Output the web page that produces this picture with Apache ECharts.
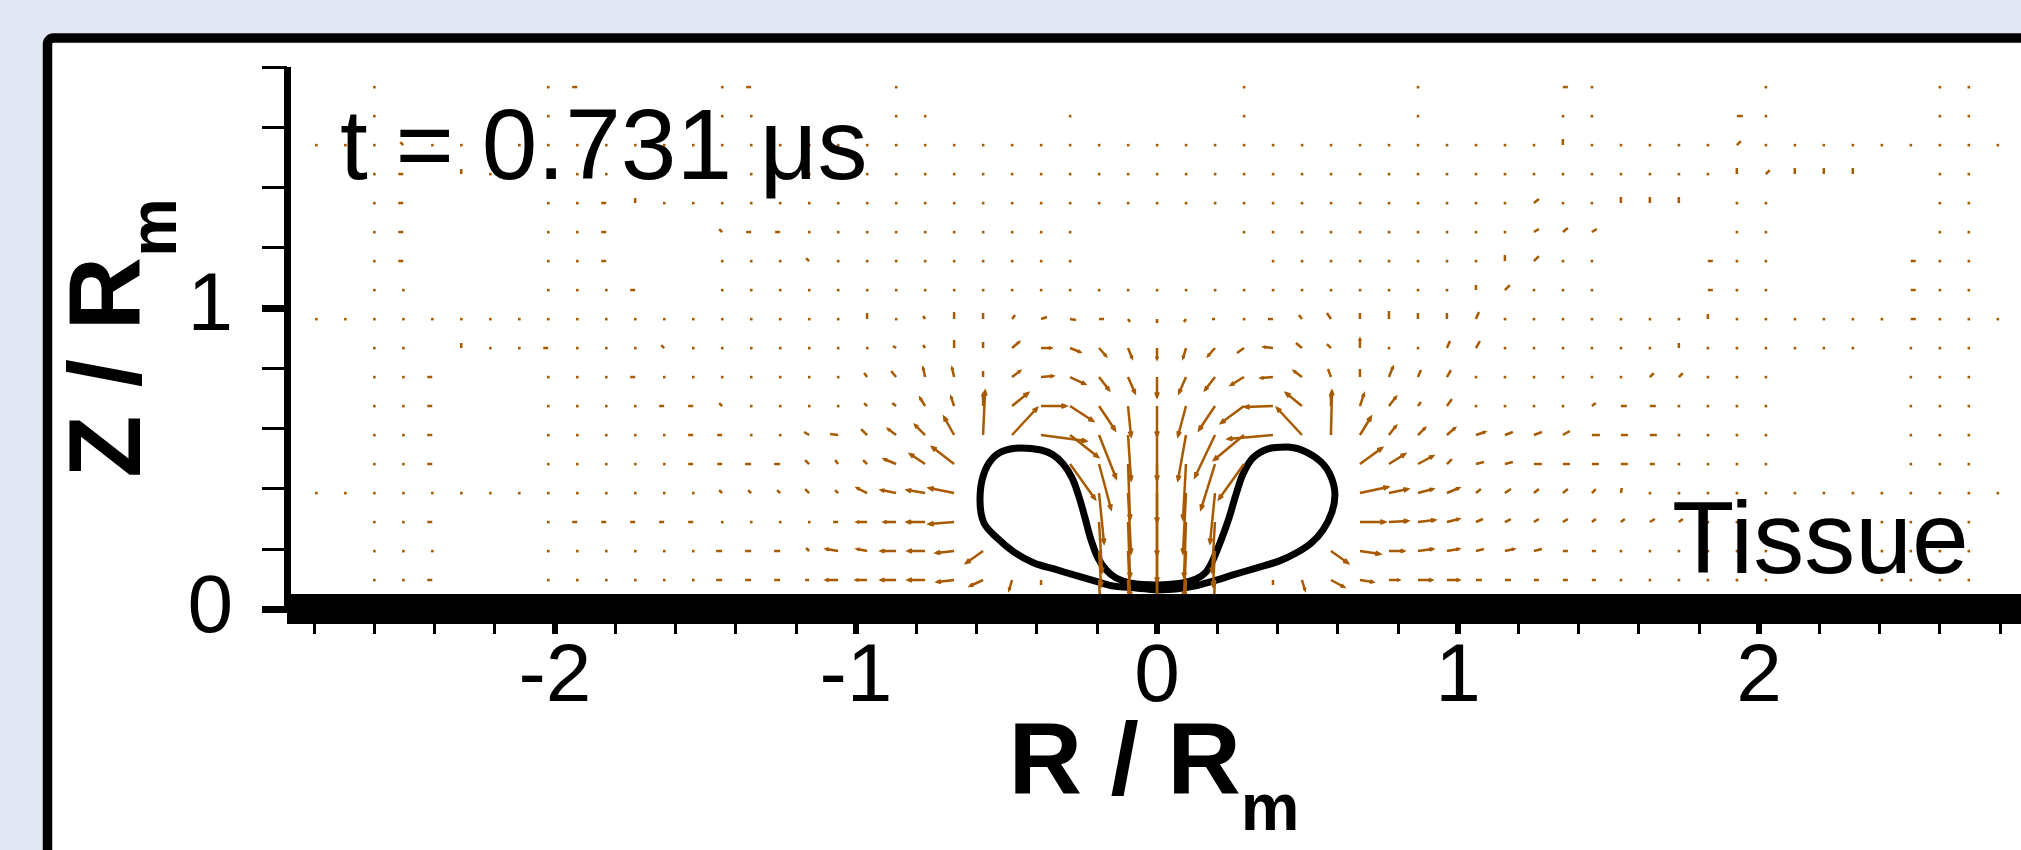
<!DOCTYPE html>
<html>
<head>
<meta charset="utf-8">
<script src="https://cdn.jsdelivr.net/npm/echarts@6.0.0/dist/echarts.min.js"></script>
<style>
html,body{margin:0;padding:0;background:#e3e7f3;}
#chart{width:2021px;height:850px;}
</style>
</head>
<body>
<div id="chart"></div>
<script>
// ---------------- DATA ----------------
// Axis extents and tick labels
const xRange = [-2.89, 2.87];
const yRange = [0, 1.8];
const xMajorTicks = [-2, -1, 0, 1, 2];
const xMinorTicks = [-2.8,-2.6,-2.4,-2.2,-1.8,-1.6,-1.4,-1.2,-0.8,-0.6,-0.4,-0.2,0.2,0.4,0.6,0.8,1.2,1.4,1.6,1.8,2.2,2.4,2.6,2.8];
const yMajorTicks = [0, 1];
const yMinorTicks = [0.2,0.4,0.6,0.8,1.2,1.4,1.6,1.8];

// Bubble contour (left and right lobes), R/Rm and Z/Rm
const lobeLeftR = [0.000,-0.070,-0.143,-0.196,-0.276,-0.342,-0.409,-0.475,-0.528,-0.575,-0.588,-0.581,-0.558,-0.518,-0.452,-0.385,-0.346,-0.312,-0.282,-0.259,-0.239,-0.219,-0.196,-0.169,-0.136,-0.086,0.000];
const lobeLeftZ = [0.063,0.070,0.076,0.090,0.113,0.133,0.153,0.189,0.233,0.286,0.362,0.429,0.485,0.522,0.535,0.528,0.512,0.482,0.435,0.372,0.302,0.229,0.169,0.130,0.103,0.086,0.080];
const lobeRightR = [0.000,0.080,0.130,0.163,0.186,0.213,0.239,0.262,0.286,0.319,0.369,0.429,0.488,0.545,0.578,0.591,0.581,0.551,0.512,0.462,0.405,0.329,0.252,0.186,0.123,0.063,0.000];
const lobeRightZ = [0.080,0.086,0.100,0.123,0.163,0.229,0.302,0.379,0.449,0.502,0.532,0.538,0.525,0.488,0.439,0.379,0.322,0.262,0.219,0.186,0.159,0.136,0.113,0.093,0.076,0.066,0.063];

// Velocity mesh: node spacing (R/Rm) and which nodes carry a vector.
// Each mask row lists columns k = -29 ... 29 (groups of 10, last group 9); row index = j (1..18)
const meshStep = 0.0963;
const rowMasks = [
  "0011100011 1111111111 1111110111 1101111111 1111111111 100011110", // j=1
  "0011100011 1111111111 1111000111 1100011111 1111111111 100011110", // j=2
  "0011100011 1111111111 1110000111 1100001111 1111111111 100011110", // j=3
  "1111111111 1111111111 1110000111 1100001111 1111111111 111111111", // j=4
  "0011100011 1111111111 1110001111 1110001111 1111111111 100001110", // j=5
  "0011100011 1111111111 1111111111 1111111111 1111111111 100001110", // j=6
  "0011100011 1111111111 1111111111 1111111111 1111111111 100001110", // j=7
  "0011100011 1111111111 1111111111 1111111111 1111111111 100001110", // j=8
  "0011011111 1111111111 1111111111 1111111111 1111111111 111101110", // j=9
  "1111111111 1111111111 1111111111 1111111111 1111111111 111111111", // j=10
  "0011000011 1100111111 1111111111 1111111111 1111100011 100001110", // j=11
  "0011000011 1000111111 1111111000 0001111111 1111100011 100001110", // j=12
  "0011000011 1000111111 1111111000 0011111111 1111100001 100000110", // j=13
  "0011000011 1111111111 1111111111 1111111111 1111111101 100000110", // j=14
  "0011011111 1111111111 1111111111 1111111111 1111111111 111100110", // j=15
  "1111111111 1111111111 1111111111 1111111111 1111111111 111111111", // j=16
  "0010000010 0000110000 1100001000 0010000010 0001100001 100000110", // j=17
  "0010000011 0000110000 1000000000 0010000010 0001100000 100000110"  // j=18
];

// Velocity vectors [k, j, u, w] (relative speed units); nodes not listed are ~0
const jetVectors = [
  [0,1,0,-30],[0,2,0,-50],[0,3,0,-60],[0,4,0,-62],[0,5,0,-58],[0,6,0,-45],[0,7,0,-30],[0,8,0,-20],[0,9,0,-11],[0,10,0,-4],
  [-1,1,1,-25],[-1,2,2,-45],[-1,3,2,-55],[-1,4,3,-60],[-1,5,2,-55],[-1,6,3,-45],[-1,7,3,-30],[-1,8,7,-16],[-1,9,4,-10],[-1,10,2,-3],
  [1,1,-1,-25],[1,2,-2,-45],[1,3,-2,-55],[1,4,-3,-60],[1,5,-3,-55],[1,6,-8,-45],[1,7,-8,-30],[1,8,-7,-16],[1,9,-3,-10],[1,10,-2,-3],
  [-2,1,1,-20],[-2,2,2,-35],[-2,3,3,-50],[-2,4,5,-50],[-2,5,12,-45],[-2,6,17,-43],[-2,7,16,-24],[-2,8,10,-13],[-2,9,7,-8],[-2,10,5,0],
  [2,1,-1,-20],[2,2,-2,-35],[2,3,-3,-50],[2,4,-5,-50],[2,5,-14,-45],[2,6,-20,-42],[2,7,-16,-24],[2,8,-10,-13],[2,9,-7,-8],[2,10,-3,0]
];
const ringVectors = [
  [-3,5,25,-35],[-3,6,28,-22],[-3,7,23,-15],[-3,8,15,-7],[-3,9,10,-4],[-3,10,6,-1],
  [3,5,-25,-35],[3,6,-30,-25],[3,7,-23,-17],[3,8,-13,-8],[3,9,-7,-5],[3,10,-2,0],
  [-4,1,0,-5],[-4,6,45,-6],[-4,7,25,0],[-4,8,12,1],[-4,9,10,0],[-4,10,6,2],
  [4,1,0,-5],[4,6,-45,-4],[4,7,-28,-1],[4,8,-12,-1],[4,9,-9,1],[4,10,-5,0],
  [-5,1,-3,-10],[-5,6,25,27],[-5,7,16,13],[-5,8,8,6],[-5,9,7,6],[-5,10,3,4],
  [5,1,3,-10],[5,6,-25,27],[5,7,-16,13],[5,8,-8,6],[5,9,-6,5],[5,10,-3,4],
  [-6,1,-13,-6],[-6,2,-17,-12],[-6,6,2,44],[-6,7,0,12],[-6,8,0,6],[-6,9,0,6],[-6,10,0,6],
  [6,1,13,-7],[6,2,17,-12],[6,6,1,44],[6,7,0,12],[6,8,-3,8],[6,9,-4,4],[6,10,-4,6]
];
const wallVectorsLeft = [
  [-7,1,-17,-2],[-7,2,-18,-2],[-7,3,-25,-2],[-7,4,-25,5],[-7,5,-22,17],[-7,6,-10,18],[-7,7,-3,9],[-7,8,-2,9],[-7,9,0,8],[-7,10,0,7],
  [-8,1,-17,0],[-8,2,-17,0],[-8,3,-18,0],[-8,4,-18,3],[-8,5,-15,10],[-8,6,-10,10],[-8,7,-5,8],[-8,8,-2,9],[-8,9,-2,3],[-8,10,-2,3],
  [-9,1,-15,0],[-9,2,-15,0],[-9,3,-12,0],[-9,4,-15,3],[-9,5,-12,5],[-9,6,-8,6],[-9,7,-4,3],[-9,8,-5,6],[-9,9,-3,2],
  [-10,1,-11,0],[-10,2,-10,2],[-10,3,-10,0],[-10,4,-10,5],[-10,5,-4,4],[-10,6,-6,6],[-10,7,-3,3],[-10,8,-3,4],[-10,10,0,6],
  [-11,1,-12,0],[-11,2,-12,2],[-11,3,-5,0],[-11,4,-3,3],[-11,5,-3,4],[-11,6,-8,1],[-11,9,2,-2],
  [-12,1,-4,0],[-12,2,-3,3],[-12,4,-4,4],[-12,5,-4,4],[-12,6,-5,3],[-12,12,-3,3]
];
const wallVectorsRight = [
  [7,1,13,-2],[7,2,20,-3],[7,3,25,0],[7,4,28,6],[7,5,22,16],[7,6,11,18],[7,7,4,12],[7,8,0,8],[7,9,0,9],[7,10,0,6],
  [8,1,10,0],[8,2,15,0],[8,3,19,1],[8,4,19,4],[8,5,16,10],[8,6,7,9],[8,7,7,9],[8,8,4,10],[8,10,0,8],
  [9,1,14,0],[9,2,15,2],[9,3,17,2],[9,4,15,4],[9,5,15,8],[9,6,7,7],[9,7,3,4],[9,8,3,7],[9,10,0,6],
  [10,1,12,0],[10,2,12,2],[10,3,12,3],[10,4,12,5],[10,5,5,5],[10,6,8,7],[10,7,5,7],[10,8,4,7],[10,9,3,7],[10,10,0,6],
  [11,1,6,0],[11,2,8,2],[11,3,7,3],[11,4,5,4],[11,5,8,2],[11,6,9,3],[11,9,4,7],[11,10,3,7],[11,11,0,5],
  [12,1,6,0],[12,2,9,2],[12,3,6,3],[12,4,6,4],[12,5,8,2],[12,6,8,3],[12,11,5,5],[12,12,0,6]
];
const farVectors = [
  [13,1,5,0],[13,2,8,2],[13,3,5,3],[13,4,5,4],[13,5,8,0],[13,6,8,3],[13,12,5,5],[13,13,5,3],[13,14,5,4],
  [14,1,5,0],[14,2,5,0],[14,3,5,3],[14,4,5,4],[14,5,7,0],[14,6,7,4],[14,13,5,4],[14,16,0,6],[14,18,5,0],
  [15,1,4,0],[15,2,4,0],[15,3,4,3],[15,4,4,4],[15,5,7,0],[15,6,8,0],[15,7,4,3],[15,13,5,3],
  [16,3,4,3],[16,4,1,5],[16,5,7,0],[16,6,7,0],[16,7,6,0],[16,14,0,6],
  [17,3,5,3],[17,5,5,0],[17,6,7,0],[17,7,6,0],[17,8,4,4],[17,14,0,6],
  [18,3,4,3],[18,8,4,4],[18,9,0,5],[18,14,0,6],
  [19,10,0,5],[19,11,5,0],[19,12,5,0],[20,15,0,6],[20,16,4,4],[20,17,6,0],
  [21,15,4,4],[22,15,0,6],[23,15,0,6],[24,15,0,6],[26,10,5,0],[26,11,5,0],[26,12,5,0],
  [-13,1,-6,0],[-13,2,-6,0],[-13,4,-3,3],[-13,5,-6,0],[-13,13,-5,0],
  [-14,1,-6,0],[-14,2,-6,0],[-14,4,-3,3],[-14,5,-6,0],[-14,13,-5,0],[-14,18,-5,0],
  [-15,1,-6,0],[-15,2,-6,0],[-15,4,-3,3],[-15,5,-5,0],[-15,6,-5,0],[-15,7,-3,3],[-15,13,-3,3],
  [-16,3,-5,0],[-16,5,-5,0],[-16,6,-5,0],[-16,7,-5,0],
  [-17,3,-5,0],[-17,7,-5,0],[-17,9,-3,3],
  [-18,3,-5,0],[-18,8,-5,0],[-18,11,-5,0],[-18,14,0,5],
  [-19,3,-5,0],[-19,12,-5,0],[-19,13,-5,0],[-19,14,-5,0],
  [-20,3,-5,0],[-20,18,-5,0],[-21,9,-5,0],[-24,9,0,5],[-24,15,0,5],
  [-25,1,-5,0],[-25,3,-5,0],[-25,5,-5,0],[-25,6,-5,0],[-25,7,-5,0],[-25,8,-5,0],
  [-26,12,-5,0],[-26,13,-5,0],[-26,14,-5,0],[-26,15,-5,0],[-26,16,-3,3]
];
// quiver scale: axis units per speed unit
const vecScale = 1 / 301;

// ---------------- BUILD ----------------
const vecMap = {};
[jetVectors, ringVectors, wallVectorsLeft, wallVectorsRight, farVectors].forEach(function (list) {
  list.forEach(function (v) { vecMap[v[0] + ',' + v[1]] = [v[2], v[3]]; });
});
const nodes = [];
rowMasks.forEach(function (m, idx) {
  const j = idx + 1;
  const s = m.replace(/ /g, '');
  for (let i = 0; i < s.length; i++) {
    if (s[i] === '1') {
      const k = i - 29;
      const v = vecMap[k + ',' + j] || [0, 0];
      nodes.push([k * meshStep, j * meshStep, v[0], v[1]]);
    }
  }
});

const arrowColor = '#a85a00';
const FONT = '"Liberation Sans", Arial, Helvetica, sans-serif';

function renderVec(params, api) {
  const x = api.value(0), z = api.value(1), u = api.value(2), w = api.value(3);
  const p0 = api.coord([x, z]);
  const p1 = api.coord([x + u * vecScale, z + w * vecScale]);
  const dx = p1[0] - p0[0], dy = p1[1] - p0[1];
  const len = Math.sqrt(dx * dx + dy * dy);
  if (len < 3) {
    return { type: 'rect', shape: { x: p0[0] - 1.2, y: p0[1] - 1.2, width: 2.6, height: 2.6 }, style: { fill: arrowColor } };
  }
  const children = [{ type: 'line', shape: { x1: p0[0], y1: p0[1], x2: p1[0], y2: p1[1] }, style: { stroke: arrowColor, lineWidth: 2.5, lineCap: 'butt' } }];
  if (len > 9) {
    const ang = Math.atan2(dy, dx);
    const h = Math.min(5, len * 0.25);
    const a1 = ang + Math.PI - 0.4, a2 = ang + Math.PI + 0.4;
    children.push({ type: 'polyline', shape: { points: [[p1[0] + h * Math.cos(a1), p1[1] + h * Math.sin(a1)], [p1[0], p1[1]], [p1[0] + h * Math.cos(a2), p1[1] + h * Math.sin(a2)]] },
      style: { stroke: arrowColor, lineWidth: 2.2, fill: null } });
  }
  return { type: 'group', children: children };
}

function nameRich() {
  return {
    a: { fontSize: 102, fontWeight: 'bold', fontFamily: FONT, color: '#000', lineHeight: 100, verticalAlign: 'top' },
    b: { fontSize: 66, fontWeight: 'bold', fontFamily: FONT, color: '#000', lineHeight: 100, verticalAlign: 'top', padding: [64, 0, 0, 0] }
  };
}

const chart = echarts.init(document.getElementById('chart'), null, { renderer: 'canvas', width: 2021, height: 850 });
const labelStyle = { fontSize: 82, color: '#000', fontFamily: FONT };

chart.setOption({
  animation: false,
  backgroundColor: '#e3e7f3',
  grid: { left: 287, right: 0, top: 67, bottom: 241, containLabel: false },
  graphic: [
    { type: 'rect', z: -10, silent: true, shape: { x: 47.5, y: 38, width: 2100, height: 900, r: 6 }, style: { fill: '#ffffff', stroke: '#000', lineWidth: 9.5 } },
    { type: 'text', z: 50, left: 340, top: 101, style: { text: 't = 0.731 μs', fontSize: 100, fontFamily: FONT, fill: '#000' } },
    { type: 'text', z: 50, left: 1672, top: 494, style: { text: 'Tissue', fontSize: 102, fontFamily: FONT, fill: '#000' } }
  ],
  xAxis: [
    {
      type: 'value', min: xRange[0], max: xRange[1], position: 'bottom', z: 10,
      axisLine: { show: true, onZero: false, lineStyle: { color: '#000', width: 30, cap: 'butt' } },
      axisTick: { show: true, customValues: xMajorTicks, length: 25, lineStyle: { color: '#000', width: 6 } },
      axisLabel: { show: true, customValues: xMajorTicks, margin: 28, ...labelStyle },
      splitLine: { show: false },
      name: '{a|R / R}{b|m}', nameLocation: 'middle', nameGap: 106, nameMoveOverlap: false,
      nameTextStyle: { rich: nameRich() }
    },
    {
      type: 'value', min: xRange[0], max: xRange[1], position: 'bottom', z: 10,
      axisLine: { show: false, onZero: false },
      axisTick: { show: true, customValues: xMinorTicks, length: 25, lineStyle: { color: '#000', width: 3 } },
      axisLabel: { show: false }, splitLine: { show: false }
    }
  ],
  yAxis: [
    {
      type: 'value', min: yRange[0], max: yRange[1], position: 'left', z: 10,
      axisLine: { show: true, onZero: false, lineStyle: { color: '#000', width: 7, cap: 'butt' } },
      axisTick: { show: true, customValues: yMajorTicks, length: 25, lineStyle: { color: '#000', width: 7 } },
      axisLabel: { show: true, customValues: yMajorTicks, margin: 54, ...labelStyle },
      splitLine: { show: false },
      name: '{a|Z / R}{b|m}', nameLocation: 'middle', nameRotate: 90, nameGap: 126, nameMoveOverlap: false,
      nameTextStyle: { rich: nameRich() }
    },
    {
      type: 'value', min: yRange[0], max: yRange[1], position: 'left', z: 10,
      axisLine: { show: false, onZero: false },
      axisTick: { show: true, customValues: yMinorTicks, length: 25, lineStyle: { color: '#000', width: 3 } },
      axisLabel: { show: false }, splitLine: { show: false }
    }
  ],
  series: [
    { type: 'line', xAxisIndex: 0, yAxisIndex: 0, data: lobeLeftR.map(function (r, i) { return [r, lobeLeftZ[i]]; }),
      smooth: 0.35, showSymbol: false, symbol: 'none', lineStyle: { color: '#000', width: 7 }, z: 3 },
    { type: 'line', xAxisIndex: 0, yAxisIndex: 0, data: lobeRightR.map(function (r, i) { return [r, lobeRightZ[i]]; }),
      smooth: 0.35, showSymbol: false, symbol: 'none', lineStyle: { color: '#000', width: 7 }, z: 3 },
    { type: 'custom', xAxisIndex: 0, yAxisIndex: 0, data: nodes, renderItem: renderVec, z: 4, clip: false,
      encode: { x: 0, y: 1 } }
  ]
});
</script>
</body>
</html>
